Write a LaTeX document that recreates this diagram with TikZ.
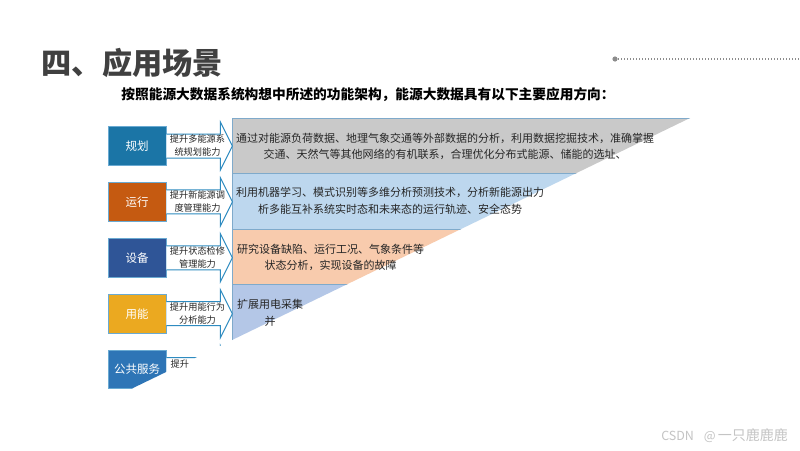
\documentclass[tikz,border=0pt]{standalone}
\usepackage{fontspec}
\setmainfont{Noto Sans CJK SC}
\definecolor{cGui}{HTML}{1B75A6}
\definecolor{cYun}{HTML}{C55A11}
\definecolor{cShe}{HTML}{2F5597}
\definecolor{cYong}{HTML}{EBA920}
\definecolor{cGong}{HTML}{2E75B6}
\definecolor{boxline}{HTML}{6AAAD2}
\definecolor{arrowline}{HTML}{2E8BC0}
\definecolor{bandline}{HTML}{7FAACB}
\definecolor{bGray}{HTML}{C9C9C9}
\definecolor{bBlue}{HTML}{BDD7EE}
\definecolor{bPeach}{HTML}{F8CBAD}
\definecolor{bLav}{HTML}{B4C7E7}
\definecolor{txt}{HTML}{262626}
\definecolor{titlec}{HTML}{404040}
\definecolor{dotc}{HTML}{8C8C8C}
\definecolor{wmc}{HTML}{C4C4C4}
\begin{document}
\begin{tikzpicture}[x=1pt,y=-1pt,
  catbox/.style={draw=boxline, line width=0.8pt, minimum width=58pt, minimum height=38.5pt, inner sep=0pt, text=white, font=\fontsize{11.5}{13}\selectfont},
  band/.style={draw=bandline, line width=0.9pt},
  barrow/.style={draw=arrowline, fill=white, line width=1pt, line join=miter},
  arrtext/.style={font=\fontsize{9.2}{13}\selectfont, align=center, text=txt, inner sep=0pt},
  bandtext/.style={font=\fontsize{11}{16.5}\selectfont, align=center, text=txt, inner sep=0pt}
]
\useasboundingbox[fill=white] (0,0) rectangle (800,450);

% title and subtitle
\node[anchor=west, font=\fontsize{30.2}{32}\selectfont\bfseries, text=titlec, inner sep=0pt] (title) at (41.5,63) {四、应用场景};
\node[font=\fontsize{13.7}{16}\selectfont\bfseries, text=black, inner sep=0pt] (sub) at (368,95) {按照能源大数据系统构想中所述的功能架构，能源大数据具有以下主要应用方向：};

% dotted rule
\coordinate (d0) at (615,59);
\coordinate (d1) at (800,59);
\draw[dotc, line width=1.1pt, dash pattern=on 1.1pt off 1.9pt] (d0) -- (d1);
\fill[dotc] (d0) circle (2.6);

% clipped diagram shapes
\begin{scope}
\clip (0,0) -- (800,0) -- (800,64.7) -- (0,452.5) -- cycle;
\draw[band, fill=bLav]   (232,284.5) rectangle (760,340);
\draw[band, fill=bPeach] (232,229)   rectangle (760,284.5);
\draw[band, fill=bBlue]  (232,173.5) rectangle (760,229);
\draw[band, fill=bGray]  (232,118)   rectangle (760,173.5);

\node[catbox, fill=cGui]  (gh) at (137,146)   {规划};
\node[catbox, fill=cYun]  (yx) at (137,201.9) {运行};
\node[catbox, fill=cShe]  (sb) at (137,257.8) {设备};
\node[catbox, fill=cYong] (yn) at (137,313.7) {用能};
\node[catbox, fill=cGong] (gg) at (137,369.6) {公共服务};

\foreach \b in {gh,yx,sb,yn,gg}{
  \draw[barrow] (\b.east) ++(0,-12) -- ++(54,0) -- ++(0,-12) -- ++(12,24) -- ++(-12,24) -- ++(0,-12) -- ++(-54,0);
}
\end{scope}

% arrow texts
\node[arrtext] (t1) at (197.5,146)   {提升多能源系\\统规划能力};
\node[arrtext] (t2) at (197.5,201.9) {提升新能源调\\度管理能力};
\node[arrtext] (t3) at (197.5,257.8) {提升状态检修\\管理能力};
\node[arrtext] (t4) at (197.5,313.7) {提升用能行为\\分析能力};
\node[arrtext, anchor=west] (t5) at (170.5,364) {提升};

% band texts
\node[bandtext] (x1) at (445,146.5) {通过对能源负荷数据、地理气象交通等外部数据的分析，利用数据挖掘技术，准确掌握\\交通、天然气等其他网络的有机联系，合理优化分布式能源、储能的选址、};
\node[bandtext] (x2) at (390,201) {利用机器学习、模式识别等多维分析预测技术，分析新能源出力\\析多能互补系统实时态和未来态的运行轨迹、安全态势};
\node[bandtext] (x3) at (330.5,257.5) {研究设备缺陷、运行工况、气象条件等\\状态分析，实现设备的故障};
\node[bandtext] (x4) at (270,313) {扩展用电采集\\并};

% watermark
\node[anchor=east, text=wmc, inner sep=0pt] (wm) at (788,436) {{\fontsize{12.5}{14}\selectfont CSDN\hspace{10pt}@\hspace{2pt}}{\fontsize{14}{14}\selectfont 一只鹿鹿鹿}};
\end{tikzpicture}
\end{document}
